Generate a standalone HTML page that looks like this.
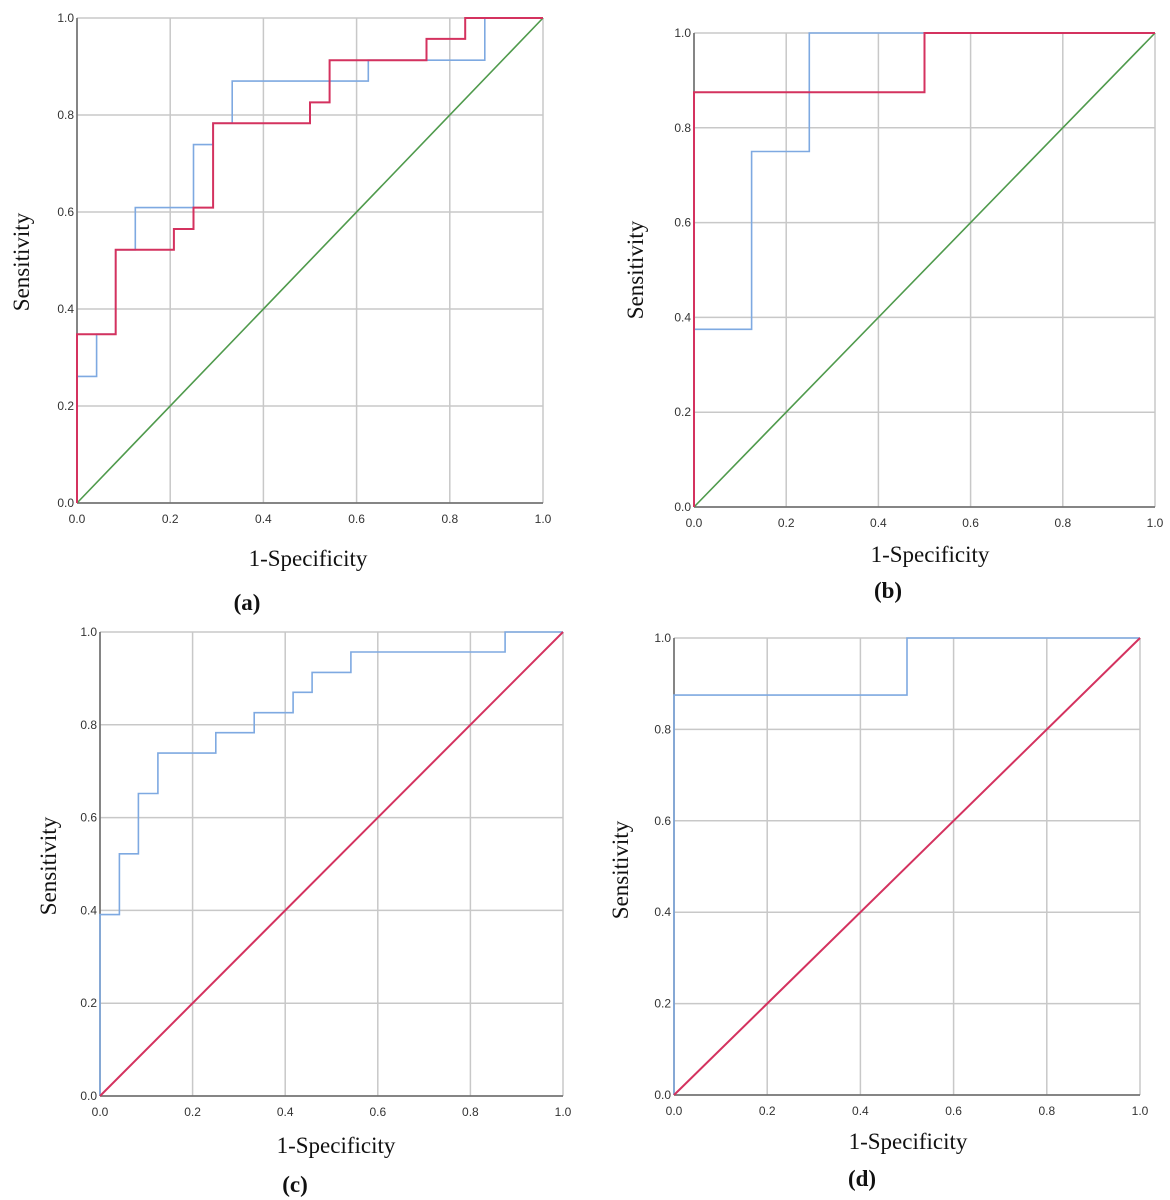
<!DOCTYPE html>
<html><head><meta charset="utf-8"><style>
html,body{margin:0;padding:0;background:#fff;}
svg{display:block;}
.tick{font-family:"Liberation Sans",sans-serif;font-size:12px;fill:#333;}
.title{font-family:"Liberation Serif",serif;font-size:23px;fill:#111;}
.plab{font-family:"Liberation Serif",serif;font-size:23px;font-weight:bold;fill:#111;}
</style></head><body>
<svg id="chart" width="1170" height="1200" viewBox="0 0 1170 1200" xmlns="http://www.w3.org/2000/svg"></svg>
<script>
// Panel data (x = 1-specificity, y = sensitivity)
const tickValues = [0, 0.2, 0.4, 0.6, 0.8, 1.0];
const tickLabels = ["0.0", "0.2", "0.4", "0.6", "0.8", "1.0"];
const aBlueX = [0, 0, 0.042, 0.042, 0.083, 0.083, 0.125, 0.125, 0.25, 0.25, 0.292, 0.292, 0.333, 0.333, 0.625, 0.625, 0.875, 0.875, 1];
const aBlueY = [0, 0.261, 0.261, 0.348, 0.348, 0.522, 0.522, 0.609, 0.609, 0.739, 0.739, 0.783, 0.783, 0.870, 0.870, 0.913, 0.913, 1, 1];
const aRedX = [0, 0, 0.083, 0.083, 0.208, 0.208, 0.25, 0.25, 0.292, 0.292, 0.5, 0.5, 0.542, 0.542, 0.75, 0.75, 0.833, 0.833, 1];
const aRedY = [0, 0.348, 0.348, 0.522, 0.522, 0.565, 0.565, 0.609, 0.609, 0.783, 0.783, 0.826, 0.826, 0.913, 0.913, 0.957, 0.957, 1, 1];
const bBlueX = [0, 0, 0.125, 0.125, 0.25, 0.25, 1];
const bBlueY = [0, 0.375, 0.375, 0.75, 0.75, 1, 1];
const bRedX = [0, 0, 0.5, 0.5, 1];
const bRedY = [0, 0.875, 0.875, 1, 1];
const cBlueX = [0, 0, 0.042, 0.042, 0.083, 0.083, 0.125, 0.125, 0.25, 0.25, 0.333, 0.333, 0.417, 0.417, 0.458, 0.458, 0.542, 0.542, 0.875, 0.875, 1];
const cBlueY = [0, 0.391, 0.391, 0.522, 0.522, 0.652, 0.652, 0.739, 0.739, 0.783, 0.783, 0.826, 0.826, 0.870, 0.870, 0.913, 0.913, 0.957, 0.957, 1, 1];
const dBlueX = [0, 0, 0.5, 0.5, 1];
const dBlueY = [0, 0.875, 0.875, 1, 1];
const refX = [0, 1];
const refY = [0, 1];

const NS = "http://www.w3.org/2000/svg";
const svg = document.getElementById("chart");
const BLUE = "#7ea9e1", RED = "#d4325f", GREEN = "#4f9a4c";

function mk(tag, attrs, parent) {
  const e = document.createElementNS(NS, tag);
  for (const k in attrs) e.setAttribute(k, attrs[k]);
  parent.appendChild(e);
  return e;
}

const panels = [
  {id: "a", x0: 77, x1: 543, yTop: 18, yBot: 503, titleX: 308, titleY: 566, labX: 247, labY: 610, sensX: 22, sensY: 262,
   series: [[aBlueX, aBlueY, BLUE, "blue-roc-curve"], [refX, refY, GREEN, "reference-diagonal"], [aRedX, aRedY, RED, "red-roc-curve"]]},
  {id: "b", x0: 694, x1: 1155, yTop: 33, yBot: 507, titleX: 930, titleY: 562, labX: 888, labY: 598, sensX: 636, sensY: 270,
   series: [[bBlueX, bBlueY, BLUE, "blue-roc-curve"], [refX, refY, GREEN, "reference-diagonal"], [bRedX, bRedY, RED, "red-roc-curve"]]},
  {id: "c", x0: 100, x1: 563, yTop: 632, yBot: 1096, titleX: 336, titleY: 1153, labX: 295, labY: 1192, sensX: 49, sensY: 866,
   series: [[cBlueX, cBlueY, BLUE, "blue-roc-curve"], [refX, refY, RED, "reference-diagonal"]]},
  {id: "d", x0: 674, x1: 1140, yTop: 638, yBot: 1095, titleX: 908, titleY: 1149, labX: 862, labY: 1186, sensX: 621, sensY: 870,
   series: [[dBlueX, dBlueY, BLUE, "blue-roc-curve"], [refX, refY, RED, "reference-diagonal"]]}
];

panels.forEach(p => {
  const g = mk("g", {}, svg);
  
  
  const sx = v => p.x0 + v * (p.x1 - p.x0);
  const sy = v => p.yBot - v * (p.yBot - p.yTop);
  // grid
  tickValues.forEach((t, i) => {
    const vl = mk("line", {x1: sx(t), x2: sx(t), y1: p.yTop, y2: p.yBot, stroke: "#c8c8c8", "stroke-width": 1.5}, g);
    
    
    const hl = mk("line", {x1: p.x0, x2: p.x1, y1: sy(t), y2: sy(t), stroke: "#c8c8c8", "stroke-width": 1.5}, g);
    
    
    const xt = mk("text", {x: sx(t), y: p.yBot + 20, "text-anchor": "middle", class: "tick"}, g);
    xt.textContent = tickLabels[i];
    
    
    const yt = mk("text", {x: p.x0 - 3, y: sy(t) + 4, "text-anchor": "end", class: "tick"}, g);
    yt.textContent = tickLabels[i];
    
    
  });
  // axes
  const ax = mk("line", {x1: p.x0, x2: p.x1, y1: p.yBot, y2: p.yBot, stroke: "#666", "stroke-width": 1.5}, g);
  
  
  const ay = mk("line", {x1: p.x0, x2: p.x0, y1: p.yTop, y2: p.yBot, stroke: "#666", "stroke-width": 1.5}, g);
  
  
  // series
  p.series.forEach(s => {
    const pts = s[0].map((x, i) => sx(x).toFixed(1) + "," + sy(s[1][i]).toFixed(1)).join(" ");
    const pl = mk("polyline", {points: pts, fill: "none", stroke: s[2], "stroke-width": s[2] === RED ? 2 : 1.6}, g);
    
    
  });
  // titles
  const xtit = mk("text", {x: p.titleX, y: p.titleY, "text-anchor": "middle", class: "title"}, g);
  xtit.textContent = "1-Specificity";
  
  
  const ytit = mk("text", {x: p.sensX, y: p.sensY, "text-anchor": "middle", class: "title", transform: "rotate(-90 " + p.sensX + " " + p.sensY + ")", dy: "7"}, g);
  ytit.textContent = "Sensitivity";
  
  
  const lab = mk("text", {x: p.labX, y: p.labY, "text-anchor": "middle", class: "plab"}, g);
  lab.textContent = "(" + p.id + ")";
  
  
});
</script>
</body></html>
